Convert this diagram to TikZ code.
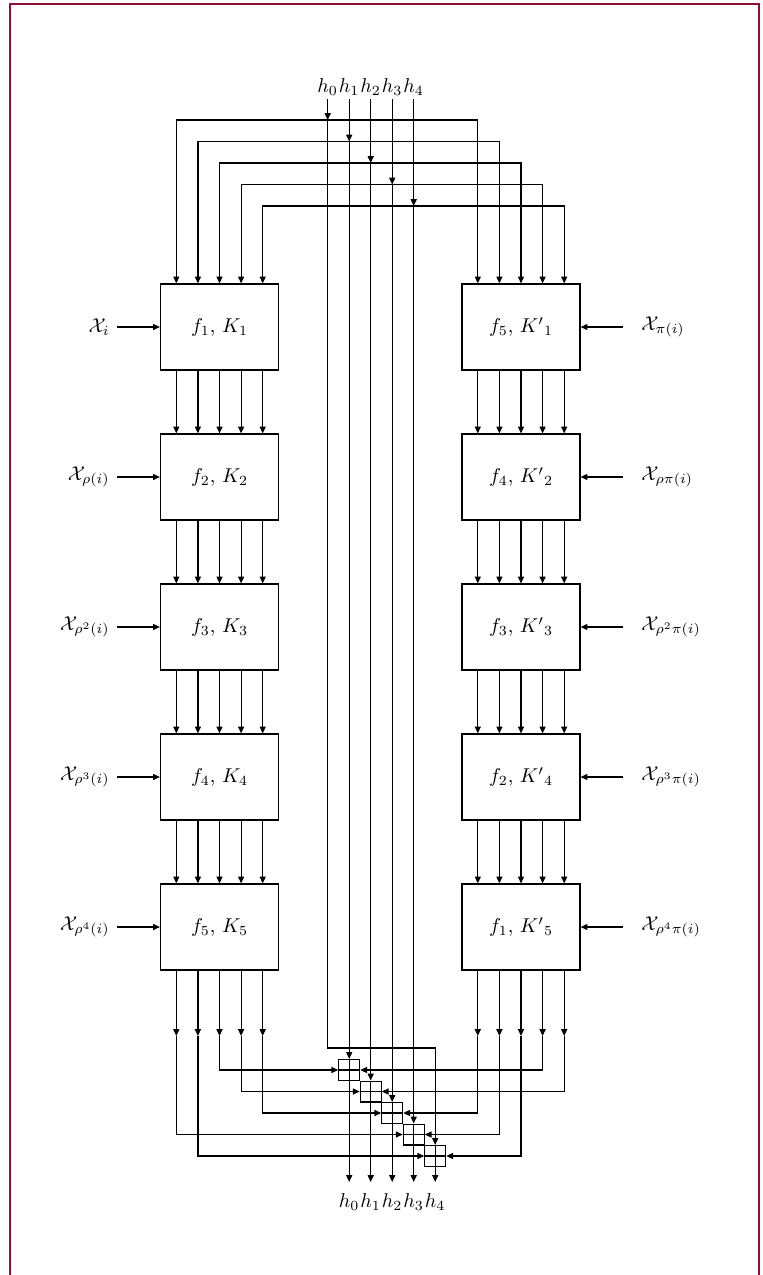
\documentclass[tikz,border=0pt]{standalone}
\usepackage{amsmath,amssymb}
\usepackage{tikz}
\usetikzlibrary{arrows.meta,calc}
\definecolor{hfFrame}{HTML}{8F0F35}
\tikzset{
  hfbox/.style={draw,line width=0.6pt,minimum width=59pt,minimum height=43pt,inner sep=0pt},
  hfxor/.style={draw,line width=0.6pt,minimum size=10.4pt,inner sep=0pt,
    path picture={\draw[line width=0.6pt]
      (path picture bounding box.north) -- (path picture bounding box.south)
      (path picture bounding box.west) -- (path picture bounding box.east);}},
  hfflow/.style={-{Triangle[length=3.4pt,width=3pt]},line width=0.6pt},
  hfh/.style={inner sep=1.5pt},
  hfin/.style={inner sep=3.5pt},
}

\begin{document}
\begin{tikzpicture}[x=0.5pt,y=-0.5pt]
  \useasboundingbox (0,0) rectangle (762,1275);
  \draw[hfFrame,line width=1pt] (10,1300) -- (10,4) -- (758.5,4) -- (758.5,1300);

  % Left chain of rounds.
  \node[hfbox] (L1) at (219.5,327) {$f_1$, $K_1$};
  \node[hfbox] (L2) at (219.5,477) {$f_2$, $K_2$};
  \node[hfbox] (L3) at (219.5,627) {$f_3$, $K_3$};
  \node[hfbox] (L4) at (219.5,777) {$f_4$, $K_4$};
  \node[hfbox] (L5) at (219.5,927) {$f_5$, $K_5$};

  % Right chain, functions in reverse order.
  \node[hfbox] (R1) at (521,327) {$f_5$, ${K'}_1$};
  \node[hfbox] (R2) at (521,477) {$f_4$, ${K'}_2$};
  \node[hfbox] (R3) at (521,627) {$f_3$, ${K'}_3$};
  \node[hfbox] (R4) at (521,777) {$f_2$, ${K'}_4$};
  \node[hfbox] (R5) at (521,927) {$f_1$, ${K'}_5$};

  % Message words fed to each round.
  \node[hfin,anchor=east] (XL1) at (117,327) {$\mathcal{X}_i$};
  \node[hfin,anchor=east] (XL2) at (117,477) {$\mathcal{X}_{\rho(i)}$};
  \node[hfin,anchor=east] (XL3) at (117,627) {$\mathcal{X}_{\rho^2(i)}$};
  \node[hfin,anchor=east] (XL4) at (117,777) {$\mathcal{X}_{\rho^3(i)}$};
  \node[hfin,anchor=east] (XL5) at (117,927) {$\mathcal{X}_{\rho^4(i)}$};
  \node[hfin,inner xsep=9pt,anchor=west] (XR1) at (623,327) {$\mathcal{X}_{\pi(i)}$};
  \node[hfin,inner xsep=9pt,anchor=west] (XR2) at (623,477) {$\mathcal{X}_{\rho\pi(i)}$};
  \node[hfin,inner xsep=9pt,anchor=west] (XR3) at (623,627) {$\mathcal{X}_{\rho^2\pi(i)}$};
  \node[hfin,inner xsep=9pt,anchor=west] (XR4) at (623,777) {$\mathcal{X}_{\rho^3\pi(i)}$};
  \node[hfin,inner xsep=9pt,anchor=west] (XR5) at (623,927) {$\mathcal{X}_{\rho^4\pi(i)}$};

  % Chaining value words, in and out, and the final additions.
  \foreach \k in {0,...,4} {
    \node[hfh,anchor=south] (hin\k) at ({327.7+21.5*\k},99) {$h_\k$};
    \node[hfh,inner sep=5.5pt,anchor=north] (hout\k) at ({349.2+21.5*\k},1182) {$h_\k$};
    \coordinate (j\k) at ({327.7+21.5*\k},{120+21.5*\k});
  }
  \foreach \k in {1,...,5}
    \node[hfxor] (xor\k) at ({327.7+21.5*\k},{1048.5+21.5*\k}) {};
  \coordinate (hturn) at (327.7,1048);

  % Each h word goes to the first round of both lines.
  \foreach \k in {0,...,4} {
    \draw[hfflow] (hin\k) -- (j\k);
    \draw[hfflow] (j\k) -| ([xshift={(\k-2)*10.8pt}]L1.north);
    \draw[hfflow] (j\k) -| ([xshift={(\k-2)*10.8pt}]R1.north);
  }

  % Round to round.
  \foreach \n [evaluate=\n as \m using int(\n+1)] in {1,...,4}
    \foreach \k in {0,...,4} {
      \draw[hfflow] ([xshift={(\k-2)*10.8pt}]L\n.south) -- ([xshift={(\k-2)*10.8pt}]L\m.north);
      \draw[hfflow] ([xshift={(\k-2)*10.8pt}]R\n.south) -- ([xshift={(\k-2)*10.8pt}]R\m.north);
    }
  \foreach \n in {1,...,5} {
    \draw[hfflow] (XL\n) -- (L\n);
    \draw[hfflow] (XR\n) -- (R\n);
  }

  % Both outputs and the rotated h word meet in the adders.
  \foreach \k/\a/\b in {0/4/3,1/5/4,2/1/5,3/2/1,4/3/2} {
    \coordinate (lo\k) at ({176.3+21.6*\k},1036);
    \coordinate (ro\k) at ({477.8+21.6*\k},1036);
    \draw[hfflow] ([xshift={(\k-2)*10.8pt}]L5.south) -- (lo\k);
    \draw[hfflow] (lo\k) |- (xor\a.west);
    \draw[hfflow] ([xshift={(\k-2)*10.8pt}]R5.south) -- (ro\k);
    \draw[hfflow] (ro\k) |- (xor\b.east);
  }
  \foreach \k in {1,...,4}
    \draw[hfflow] (j\k) -- (xor\k);
  \draw[hfflow] (j0) -- (hturn) -| (xor5);
  \foreach \k [evaluate=\k as \p using int(\k-1)] in {1,...,5}
    \draw[hfflow] (xor\k) -- (hout\p);
\end{tikzpicture}
\end{document}
